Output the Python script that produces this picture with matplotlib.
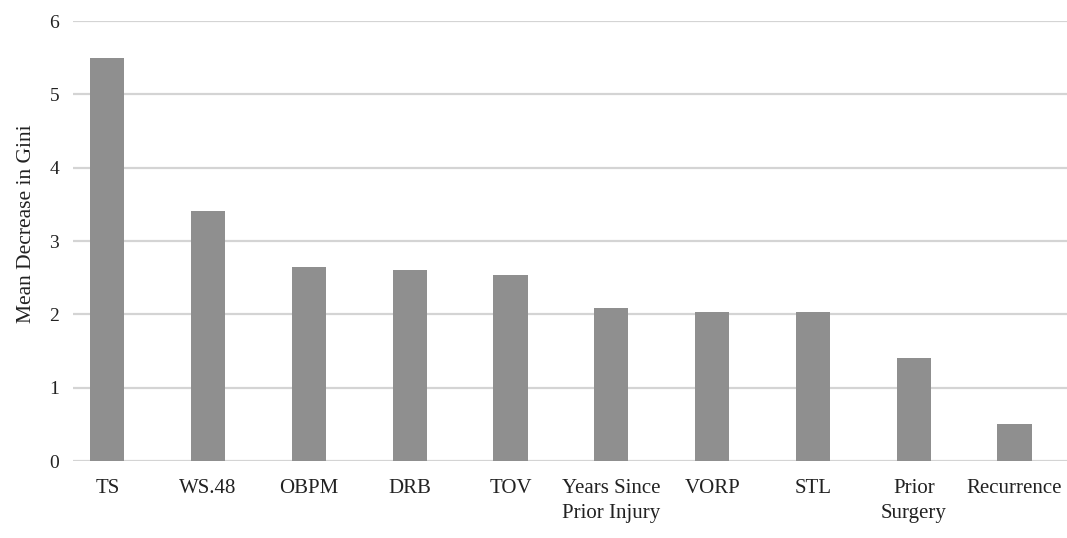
import matplotlib
matplotlib.use("Agg")
import matplotlib.pyplot as plt

# values
categories = ["TS", "WS.48", "OBPM", "DRB", "TOV", "Years Since\nPrior Injury",
              "VORP", "STL", "Prior\nSurgery", "Recurrence"]
gini = [5.49, 3.41, 2.65, 2.60, 2.54, 2.08, 2.03, 2.03, 1.40, 0.51]
yticks = [0, 1, 2, 3, 4, 5, 6]

plt.rcParams['font.family'] = ['Liberation Serif', 'DejaVu Serif']

fig = plt.figure(figsize=(10.67, 5.38), dpi=100)
ax = fig.add_axes([73 / 1067, 1 - 461 / 538, (1067 - 73) / 1067, 440 / 538])

x = list(range(len(categories)))
ax.bar(x, gini, width=0.34, color='#8f8f8f', zorder=3)

ax.set_ylim(0, 6)
ax.set_xlim(-0.34, 9.52)
ax.set_yticks(yticks)
ax.set_yticklabels([str(t) for t in yticks], fontsize=14, color='#222222')
ax.set_xticks(x)
ax.set_xticklabels(categories, fontsize=15, color='#222222', linespacing=1.45, va='top')
ax.tick_params(axis='both', length=0)
ax.tick_params(axis='y', pad=10)
ax.tick_params(axis='x', pad=13)
ax.yaxis.grid(True, color='#d4d4d4', linewidth=1.6, zorder=0)
for s in ax.spines.values():
    s.set_visible(False)

ax.set_ylabel('Mean Decrease in Gini', fontsize=15.5, color='#222222')
ax.yaxis.set_label_coords(-0.037, 0.54)

fig.savefig('out.png', dpi=100)
